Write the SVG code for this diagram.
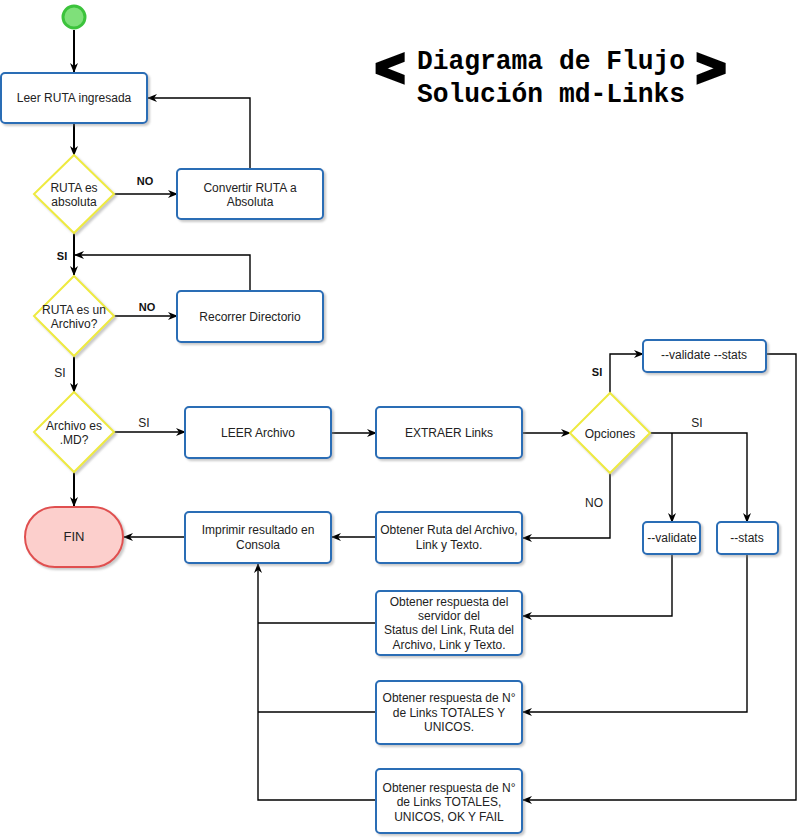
<svg xmlns="http://www.w3.org/2000/svg" width="807" height="839" viewBox="0 0 807 839">
<defs>
<style>
.box{fill:#fff;stroke:#2a6db5;stroke-width:2;filter:url(#sh)}
.dia{fill:#fff;stroke:#eeea40;stroke-width:2;filter:url(#sh)}
.t{font-family:"Liberation Sans",Arial,sans-serif;font-size:12px;fill:#222;text-anchor:middle}
.lb{font-family:"Liberation Sans",Arial,sans-serif;font-size:12px;fill:#222;text-anchor:middle}
.lbb{font-family:"Liberation Sans",Arial,sans-serif;font-size:11px;font-weight:bold;fill:#111;text-anchor:middle}
.c{fill:none;stroke:#000;stroke-width:1.4}
.ct{fill:none;stroke:#000;stroke-width:2}
.ttl{font-family:"Liberation Mono","Courier New",monospace;font-size:28px;font-weight:bold;fill:#000}
.chev{font-family:"Liberation Sans",Arial,sans-serif;font-size:50px;font-weight:bold;fill:#000;stroke:#000;stroke-width:4;text-anchor:middle}
</style>
<filter id="sh" x="-10%" y="-10%" width="130%" height="130%">
<feDropShadow dx="2" dy="2" stdDeviation="1" flood-color="#888" flood-opacity="0.45"/>
</filter>
<marker id="a" viewBox="0 0 10 8" refX="9" refY="4" markerWidth="10" markerHeight="8" markerUnits="userSpaceOnUse" orient="auto">
<path d="M0,0 L10,4 L0,8 L3,4 z" fill="#000"/>
</marker>
</defs>
<rect width="807" height="839" fill="#fff"/>

<g id="title">
<text class="chev" x="390" y="85">&lt;</text>
<text class="chev" x="711" y="85">&gt;</text>
<text class="ttl" x="417" y="69" textLength="268" lengthAdjust="spacingAndGlyphs">Diagrama de Flujo</text>
<text class="ttl" x="417" y="102" textLength="268" lengthAdjust="spacingAndGlyphs">Solución md-Links</text>
</g>

<g id="connectors">
<path class="ct" d="M74,30 V72" marker-end="url(#a)"/>
<path class="ct" d="M74,123 V155" marker-end="url(#a)"/>
<path class="c" d="M114,194 H177" marker-end="url(#a)"/>
<path class="c" d="M250,169 V98 H148" marker-end="url(#a)"/>
<path class="ct" d="M74,233 V275" marker-end="url(#a)"/>
<path class="c" d="M250,291 V255 H75" marker-end="url(#a)"/>
<path class="c" d="M114,316 H177" marker-end="url(#a)"/>
<path class="ct" d="M74,356 V392" marker-end="url(#a)"/>
<path class="c" d="M114,432 H185" marker-end="url(#a)"/>
<path class="ct" d="M74,472 V506" marker-end="url(#a)"/>
<path class="c" d="M331,433 H376" marker-end="url(#a)"/>
<path class="c" d="M522,433 H570" marker-end="url(#a)"/>
<path class="c" d="M610,393 V354 H643" marker-end="url(#a)"/>
<path class="c" d="M650,433 H747 V522" marker-end="url(#a)"/>
<path class="c" d="M672,433 V522" marker-end="url(#a)"/>
<path class="c" d="M610,473 V538 H523" marker-end="url(#a)"/>
<path class="c" d="M376,537 H332" marker-end="url(#a)"/>
<path class="c" d="M185,537 H124" marker-end="url(#a)"/>
<path class="c" d="M766,354 H796 V800 H523" marker-end="url(#a)"/>
<path class="c" d="M672,554 V616 H523" marker-end="url(#a)"/>
<path class="c" d="M747,554 V712 H523" marker-end="url(#a)"/>
<path class="c" d="M376,623 H258"/>
<path class="c" d="M376,712 H258"/>
<path class="c" d="M376,800 H258 V564" marker-end="url(#a)"/>
<text class="lbb" x="145" y="185">NO</text>
<text class="lbb" x="62" y="260">SI</text>
<text class="lbb" x="147" y="311">NO</text>
<text class="lb" x="60" y="377">SI</text>
<text class="lb" x="144" y="427">SI</text>
<text class="lbb" x="597" y="376">SI</text>
<text class="lb" x="697" y="427">SI</text>
<text class="lb" x="594" y="507">NO</text>
</g>

<g id="start"><circle cx="74" cy="17" r="11" fill="#7fe07a" stroke="#3cc33c" stroke-width="3"/></g>

<g id="leer-ruta"><rect class="box" x="1" y="73" width="146" height="50" rx="4"/><text class="t" x="74" y="102">Leer RUTA ingresada</text></g>

<g id="ruta-absoluta"><polygon class="dia" points="74,155 114,194 74,233 34,194"/><text class="t" x="74" y="192">RUTA es</text><text class="t" x="74" y="206">absoluta</text></g>

<g id="convertir"><rect class="box" x="177" y="169" width="146" height="50" rx="4"/><text class="t" x="250" y="192">Convertir RUTA a</text><text class="t" x="250" y="206">Absoluta</text></g>

<g id="ruta-archivo"><polygon class="dia" points="74,276 114,316 74,356 34,316"/><text class="t" x="74" y="314">RUTA es un</text><text class="t" x="74" y="328">Archivo?</text></g>

<g id="recorrer"><rect class="box" x="177" y="291" width="146" height="51" rx="4"/><text class="t" x="250" y="321">Recorrer Directorio</text></g>

<g id="archivo-md"><polygon class="dia" points="74,392 114,432 74,472 34,432"/><text class="t" x="74" y="430">Archivo es</text><text class="t" x="74" y="444">.MD?</text></g>

<g id="leer-archivo"><rect class="box" x="185" y="407" width="146" height="51" rx="4"/><text class="t" x="258" y="437">LEER Archivo</text></g>

<g id="extraer"><rect class="box" x="376" y="407" width="146" height="51" rx="4"/><text class="t" x="449" y="437">EXTRAER Links</text></g>

<g id="opciones"><polygon class="dia" points="610,393 650,433 610,473 570,433"/><text class="t" x="610" y="438">Opciones</text></g>

<g id="validate-stats"><rect class="box" x="643" y="340" width="123" height="32" rx="4"/><text class="t" x="704" y="359">--validate --stats</text></g>

<g id="validate"><rect class="box" x="643" y="522" width="57" height="32" rx="4"/><text class="t" x="672" y="542">--validate</text></g>

<g id="stats"><rect class="box" x="717" y="522" width="61" height="32" rx="4"/><text class="t" x="747" y="542">--stats</text></g>

<g id="fin"><rect x="25" y="507" width="98" height="60" rx="30" fill="#fccfcc" stroke="#e05050" stroke-width="2" filter="url(#sh)"/><text class="t" x="74" y="541" style="font-size:13px">FIN</text></g>

<g id="imprimir"><rect class="box" x="185" y="512" width="146" height="51" rx="4"/><text class="t" x="258" y="534">Imprimir resultado en</text><text class="t" x="258" y="549">Consola</text></g>

<g id="obtener-ruta"><rect class="box" x="376" y="512" width="146" height="51" rx="4"/><text class="t" x="449" y="534">Obtener Ruta del Archivo,</text><text class="t" x="449" y="549">Link y Texto.</text></g>

<g id="servidor"><rect class="box" x="376" y="591" width="146" height="64" rx="4"/><text class="t" x="449" y="606">Obtener respuesta del</text><text class="t" x="449" y="620">servidor del</text><text class="t" x="449" y="634">Status del Link, Ruta del</text><text class="t" x="449" y="649">Archivo, Link y Texto.</text></g>

<g id="totales-unicos"><rect class="box" x="376" y="681" width="146" height="63" rx="4"/><text class="t" x="449" y="702">Obtener respuesta de N°</text><text class="t" x="449" y="717">de Links TOTALES Y</text><text class="t" x="449" y="731">UNICOS.</text></g>

<g id="totales-ok-fail"><rect class="box" x="376" y="769" width="146" height="64" rx="4"/><text class="t" x="449" y="792">Obtener respuesta de N°</text><text class="t" x="449" y="806">de Links TOTALES,</text><text class="t" x="449" y="821">UNICOS, OK Y FAIL</text></g>
</svg>
